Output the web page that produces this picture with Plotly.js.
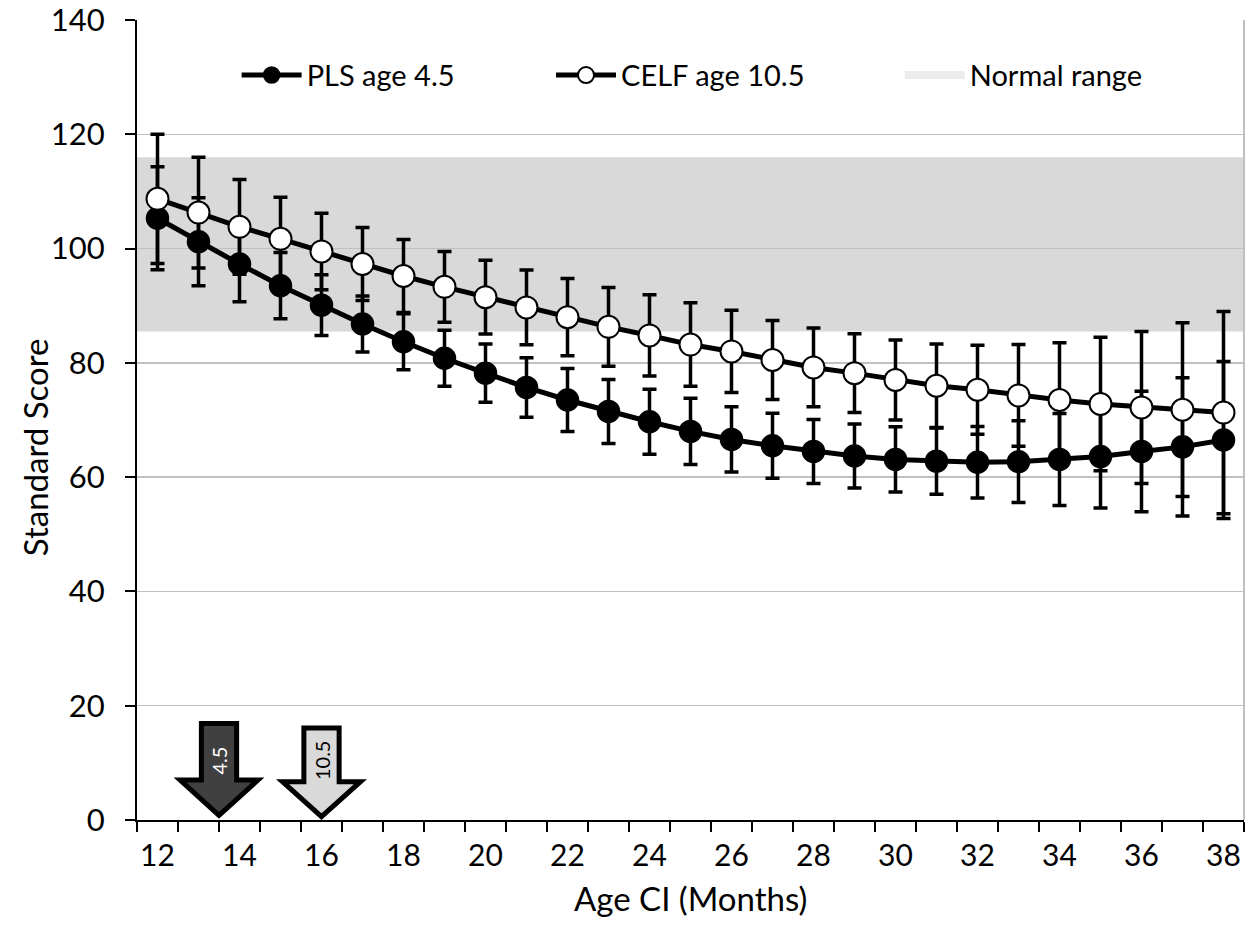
<!DOCTYPE html>
<html>
<head>
<meta charset="utf-8">
<script src="https://cdn.plot.ly/plotly-3.0.1.min.js"></script>
<style>
  html, body { margin: 0; padding: 0; background: #fff; }
  #chart { width: 1247px; height: 932px; }
</style>
</head>
<body>
<div id="chart"></div>
<script>
// Age at cochlear implant (months)
const months = [12, 13, 14, 15, 16, 17, 18, 19, 20, 21, 22, 23, 24, 25,
                26, 27, 28, 29, 30, 31, 32, 33, 34, 35, 36, 37, 38];

// PLS standard score at age 4.5 (mean and error)
const plsMean = [105.3, 101.2, 97.3, 93.5, 90.1, 86.8, 83.7, 80.8, 78.2, 75.7, 73.5, 71.5, 69.7, 68.0,
                 66.6, 65.5, 64.5, 63.7, 63.1, 62.8, 62.6, 62.7, 63.1, 63.6, 64.5, 65.3, 66.5];
const plsErr  = [9.0, 7.7, 6.6, 5.8, 5.3, 4.9, 4.9, 4.9, 5.1, 5.2, 5.5, 5.6, 5.7, 5.8,
                 5.7, 5.7, 5.6, 5.6, 5.7, 5.8, 6.25, 7.15, 8.05, 9.0, 10.55, 12.1, 13.75];

// CELF standard score at age 10.5 (mean and error)
const celfMean = [108.7, 106.3, 103.8, 101.7, 99.5, 97.3, 95.2, 93.3, 91.5, 89.7, 88.0, 86.3, 84.8, 83.2,
                  82.0, 80.5, 79.2, 78.2, 77.0, 76.0, 75.3, 74.3, 73.5, 72.8, 72.2, 71.8, 71.3];
const celfErr  = [11.3, 9.7, 8.3, 7.3, 6.7, 6.4, 6.4, 6.2, 6.45, 6.55, 6.75, 6.9, 7.1, 7.3,
                  7.2, 6.9, 6.9, 6.9, 7.0, 7.3, 7.8, 8.9, 10.0, 11.7, 13.3, 15.2, 17.7];

// Normal range band
const normalLow = 85.5;
const normalHigh = 116;

// Tick labels on both axes
const xTickVals = [12, 14, 16, 18, 20, 22, 24, 26, 28, 30, 32, 34, 36, 38];
const yTickVals = [0, 20, 40, 60, 80, 100, 120, 140];

// Axis titles
const xTitle = 'Age CI (Months)';
const yTitle = 'Standard Score';

// Test-age markers: arrow position on the age axis and label
const arrowX = [13.5, 16];
const arrowLabels = ['4.5', '10.5'];

const FONT = 'Lato, "Open Sans", sans-serif';

const catEdges = months.map(m => m - 0.5).concat([months[months.length - 1] + 0.5]);

const errStyle = (arr) => ({
  type: 'data', array: arr, visible: true,
  color: '#000', thickness: 3.5, width: 7
});

const traces = [
  {
    name: 'PLS age 4.5',
    x: months, y: plsMean,
    type: 'scatter', mode: 'lines+markers',
    line: { color: '#000', width: 5 },
    marker: { size: 22, color: '#000', line: { color: '#000', width: 1.5 } },
    error_y: errStyle(plsErr),
    legend: 'legend',
    hoverinfo: 'x+y'
  },
  {
    name: 'CELF age 10.5',
    x: months, y: celfMean,
    type: 'scatter', mode: 'lines+markers',
    line: { color: '#000', width: 5 },
    marker: { size: 22, color: '#fff', line: { color: '#000', width: 2 } },
    error_y: errStyle(celfErr),
    legend: 'legend2',
    hoverinfo: 'x+y'
  },
  {
    name: 'Normal range',
    x: [null], y: [null],
    type: 'scatter', mode: 'lines',
    line: { color: '#ececec', width: 8 },
    legend: 'legend3',
    hoverinfo: 'skip'
  }
];

// Down arrows pointing at the implant age of each test group
function arrowPath(cx, top, neck, tip) {
  const bw = 0.43, hw = 0.95;
  return 'M' + (cx - bw) + ',' + top +
         ' L' + (cx + bw) + ',' + top +
         ' L' + (cx + bw) + ',' + neck +
         ' L' + (cx + hw) + ',' + neck +
         ' L' + cx + ',' + tip +
         ' L' + (cx - hw) + ',' + neck +
         ' L' + (cx - bw) + ',' + neck + ' Z';
}

const arrowFill = ['#404040', '#d9d9d9'];
const arrowText = ['#ffffff', '#000000'];
const arrowTop = [16.9, 16.1];
const arrowNeck = [7.0, 6.7];
const arrowTip = [0.8, 0.6];

const shapes = [
  {
    type: 'rect', xref: 'paper', yref: 'y',
    x0: 0, x1: 1, y0: normalLow, y1: normalHigh,
    fillcolor: '#d9d9d9', line: { width: 0 }, layer: 'below'
  },
  {
    type: 'line', xref: 'paper', yref: 'paper',
    x0: 1, x1: 1, y0: 0, y1: 1,
    line: { color: '#bfbfbf', width: 2 }, layer: 'below'
  }
];
arrowX.forEach((ax, i) => {
  shapes.push({
    type: 'path', xref: 'x', yref: 'y',
    path: arrowPath(ax, arrowTop[i], arrowNeck[i], arrowTip[i]),
    fillcolor: arrowFill[i],
    line: { color: '#000', width: 5 },
    layer: 'above'
  });
});

const annotations = arrowX.map((ax, i) => ({
  x: ax, y: 10.4, xref: 'x', yref: 'y',
  text: arrowLabels[i], showarrow: false, textangle: -90,
  font: { family: FONT, size: 20, color: arrowText[i] }
}));

// Axis titles placed as paper-anchored labels
annotations.push({
  text: xTitle, xref: 'paper', yref: 'paper', x: 0.5, y: -0.098,
  xanchor: 'center', yanchor: 'middle', showarrow: false,
  font: { family: FONT, size: 33, color: '#000' }
});
annotations.push({
  text: yTitle, xref: 'paper', yref: 'paper', x: -0.0921, y: 0.466,
  xanchor: 'center', yanchor: 'middle', showarrow: false, textangle: -90,
  font: { family: FONT, size: 33, color: '#000' }
});

const legendBase = {
  orientation: 'h', yanchor: 'middle', xanchor: 'left', y: 0.931,
  bgcolor: 'rgba(0,0,0,0)', borderwidth: 0,
  font: { family: FONT, size: 29, color: '#000' },
  itemwidth: 60, itemclick: false, itemdoubleclick: false
};

const layout = {
  width: 1247, height: 932,
  margin: { l: 137, r: 3, t: 20, b: 112 },
  paper_bgcolor: '#fff', plot_bgcolor: '#fff',
  font: { family: FONT, size: 32, color: '#000' },
  showlegend: true,
  legend:  Object.assign({}, legendBase, { x: 0.090 }),
  legend2: Object.assign({}, legendBase, { x: 0.374 }),
  legend3: Object.assign({}, legendBase, { x: 0.689 }),
  xaxis: {
    range: [11.5, 38.5],
    tickmode: 'array', tickvals: xTickVals,
    ticks: '', showgrid: false, zeroline: false,
    showline: true, linecolor: '#000', linewidth: 2,
    ticklabelstandoff: 8,
    ticklabeloverflow: 'allow',
    tickfont: { family: FONT, size: 30 },
    minor: { tickmode: 'array', tickvals: catEdges, ticks: 'outside', ticklen: 10, tickwidth: 2, tickcolor: '#000', showgrid: false }
  },
  yaxis: {
    range: [0, 140],
    tickmode: 'array', tickvals: yTickVals,
    ticks: 'outside', ticklen: 10, tickwidth: 2, tickcolor: '#000',
    showline: true, linecolor: '#000', linewidth: 2,
    showgrid: true, gridcolor: '#c0c0c0', gridwidth: 1.5,
    zeroline: false,
    ticklabelstandoff: 14,
    ticklabeloverflow: 'allow',
    tickfont: { family: FONT, size: 31 }
  },
  shapes: shapes,
  annotations: annotations
};

Plotly.newPlot('chart', traces, layout, { displayModeBar: false, staticPlot: true });
</script>
</body>
</html>
